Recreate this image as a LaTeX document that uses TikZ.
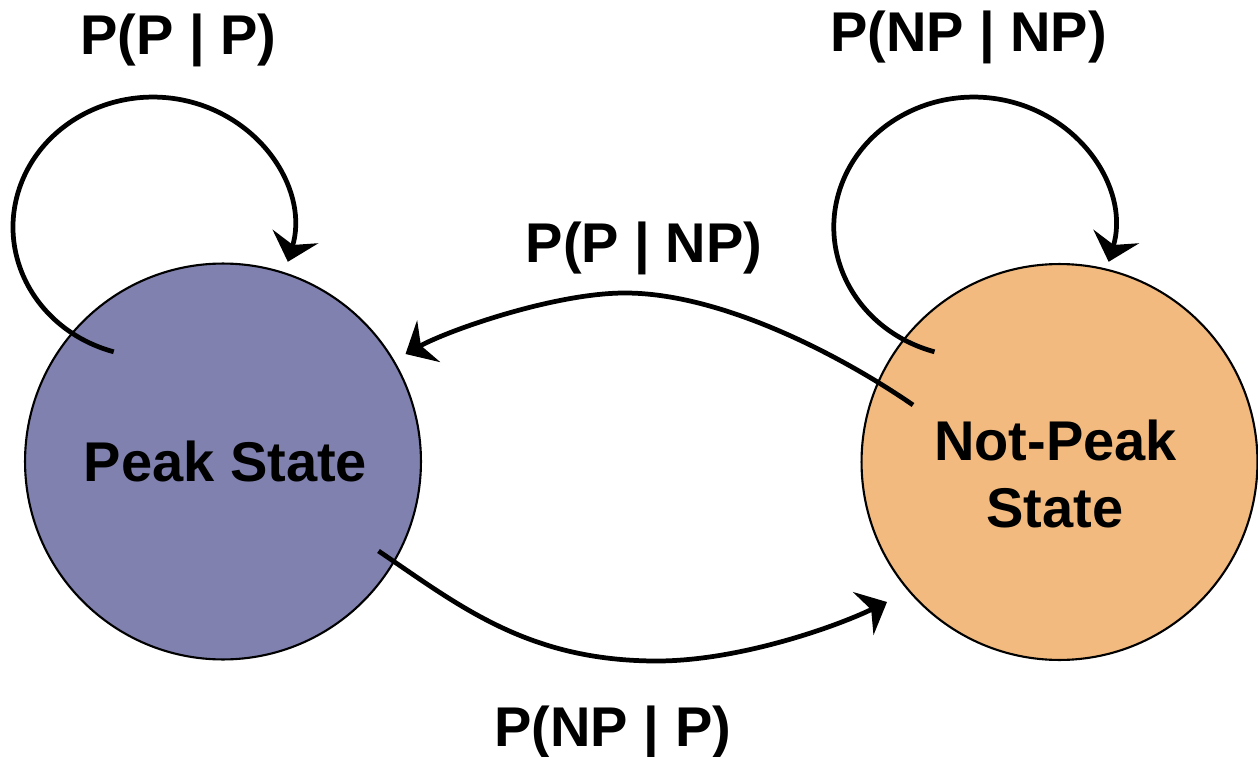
\documentclass[tikz,border=0pt]{standalone}
\usepackage{fontspec}
\setmainfont{Liberation Sans}
\usetikzlibrary{arrows.meta}
\definecolor{peakfill}{HTML}{8081AE}
\definecolor{notpeakfill}{HTML}{F2BA7E}
\begin{document}
\begin{tikzpicture}[x=0.02cm,y=0.02cm,
  statecircle/.style={circle, draw=black, line width=1.2pt, minimum size=7.92cm, inner sep=0pt},
  lbl/.style={font=\fontsize{31.87}{38.1}\selectfont\bfseries, inner sep=0pt, anchor=base},
  conn/.style={line width=2.7pt, -{Stealth[length=15pt, width=27pt, inset=5pt]}}]
\useasboundingbox (0,0) rectangle (1258,-757);
% states
\node[statecircle, fill=peakfill] (P) at (223,-461.5) {};
\node[statecircle, fill=notpeakfill] (NP) at (1059.5,-462) {};
\node[lbl] (Ptext) at (225.5,-481.7) {Peak State};
\node[lbl] (NPtext1) at (1055.5,-460) {Not-Peak};
\node[lbl] (NPtext2) at (1055,-527) {State};
% connector end points
\coordinate (pp-s) at (113.7,-351.8);
\coordinate (npnp-s) at (934.5,-351.8);
\coordinate (pnp-s) at (913,-405);
\coordinate (pnp-top) at (625,-293);
\coordinate (pnp-e) at (405.5,-354);
\coordinate (npp-s) at (378.5,-551);
\coordinate (npp-b) at (657,-661);
\coordinate (npp-e) at (887,-602);
% self loops
\draw[conn] (pp-s) arc[start angle=253.7, end angle=-15.5, x radius=2.8cm, y radius=2.6cm];
\draw[conn] (npnp-s) arc[start angle=253.7, end angle=-15.5, x radius=2.8cm, y radius=2.6cm];
% transitions
\draw[conn] (pnp-s) .. controls (839,-354) and (720,-293) .. (pnp-top) .. controls (555,-293) and (449,-330) .. (pnp-e);
\draw[conn] (npp-s) .. controls (458.5,-605) and (527,-661) .. (npp-b) .. controls (737,-661) and (833,-628) .. (npp-e);
% labels
\node[lbl] (l-pp) at (178.5,-55) {P(P | P)};
\node[lbl] (l-npnp) at (968.5,-52) {P(NP | NP)};
\node[lbl] (l-pnp) at (644,-262) {P(P | NP)};
\node[lbl] (l-npp) at (612.8,-746) {P(NP | P)};
\end{tikzpicture}
\end{document}
